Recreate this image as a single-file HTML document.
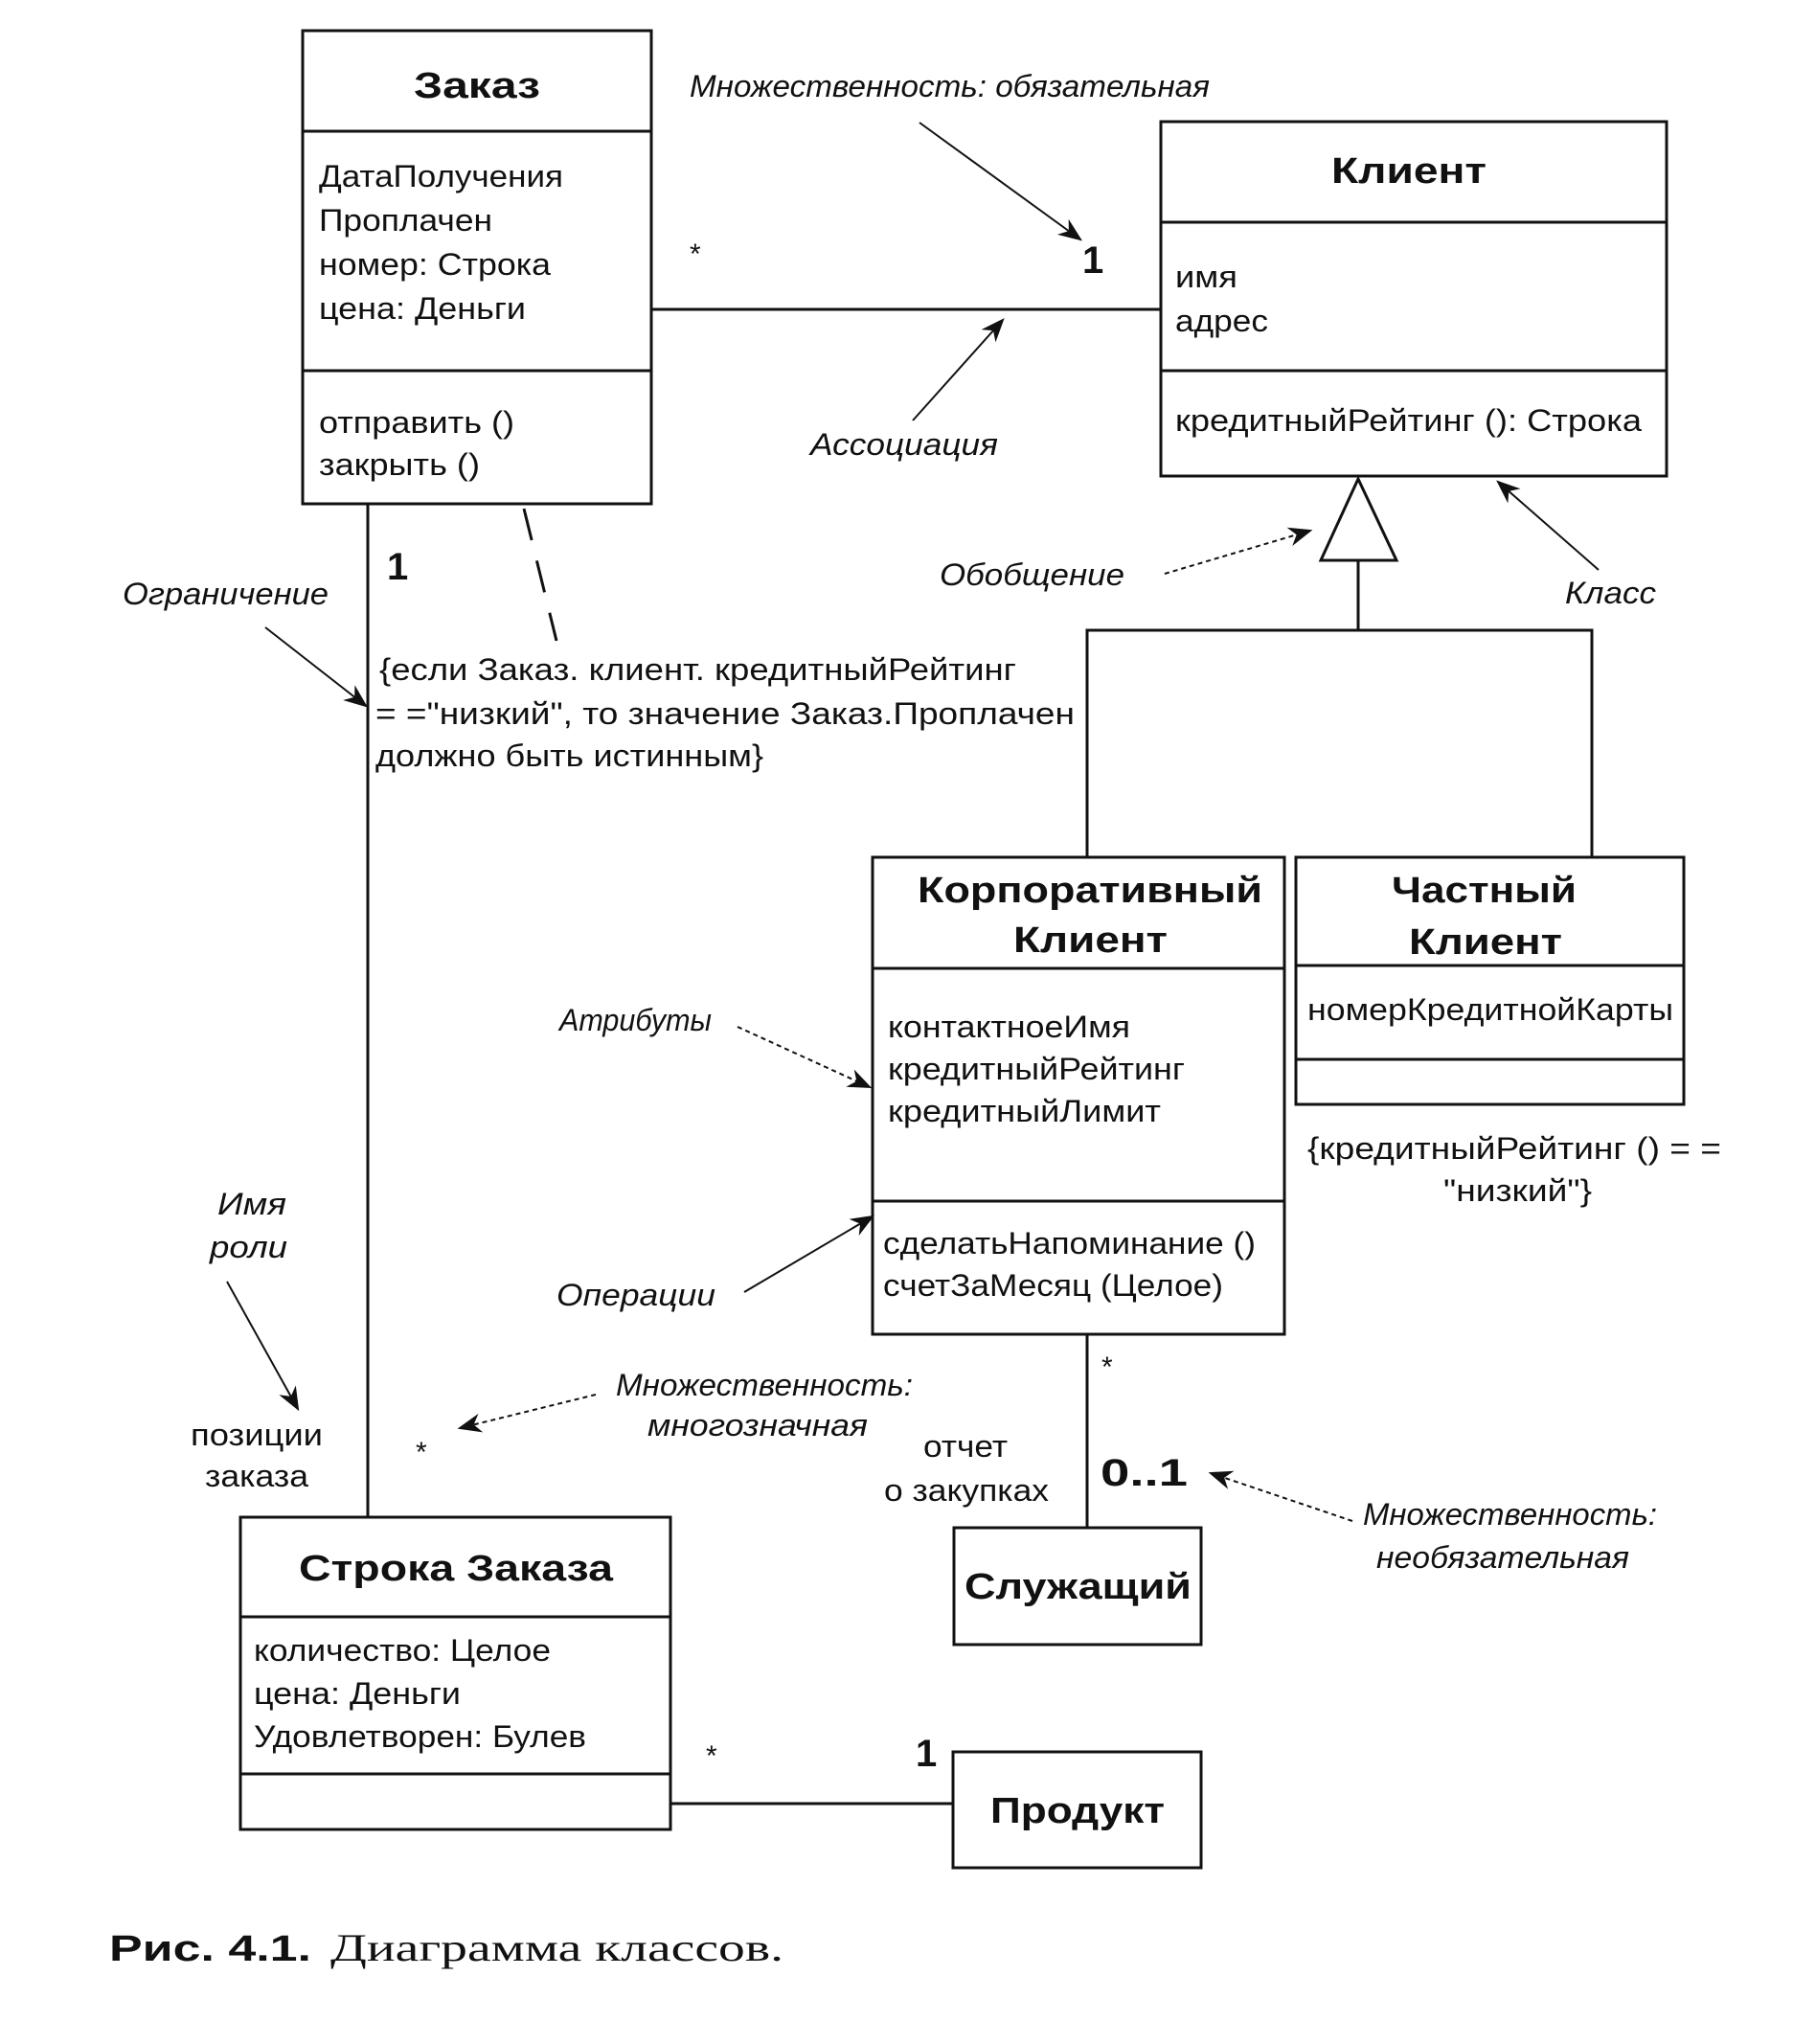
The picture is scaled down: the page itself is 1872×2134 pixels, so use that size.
<!DOCTYPE html>
<html><head><meta charset="utf-8"><style>html,body{margin:0;padding:0;background:#fff}svg{display:block}</style></head>
<body>
<svg width="1872" height="2134" viewBox="0 0 1872 2134" xmlns="http://www.w3.org/2000/svg" font-family="Liberation Sans, sans-serif" fill="#111">
<defs>
<marker id="a" markerWidth="10" markerHeight="8" refX="9" refY="4" orient="auto" markerUnits="userSpaceOnUse" viewBox="0 0 10 8">
<path d="M0,0 L10,4 L0,8 L3,4 z" fill="#111"/></marker>
<marker id="b" viewBox="0 0 10 8" refX="9" refY="4" markerWidth="26" markerHeight="20" orient="auto" markerUnits="userSpaceOnUse"><path d="M0,0 L10,4 L0,8 L3,4 z" fill="#111"/></marker>
</defs>
<g stroke="#111" stroke-width="3" fill="none">
<!-- Заказ -->
<rect x="316" y="32" width="364" height="494"/>
<line x1="316" y1="137" x2="680" y2="137"/><line x1="316" y1="387" x2="680" y2="387"/>
<!-- Клиент -->
<rect x="1212" y="127" width="528" height="370"/>
<line x1="1212" y1="232" x2="1740" y2="232"/><line x1="1212" y1="387" x2="1740" y2="387"/>
<!-- assoc -->
<line x1="680" y1="323" x2="1212" y2="323"/>
<!-- generalization -->
<polygon points="1418,500 1379,585 1458,585"/>
<line x1="1418" y1="585" x2="1418" y2="658"/>
<polyline points="1135,895 1135,658 1662,658 1662,895"/>
<!-- Корп -->
<rect x="911" y="895" width="430" height="498"/>
<line x1="911" y1="1011" x2="1341" y2="1011"/><line x1="911" y1="1254" x2="1341" y2="1254"/>
<!-- Частный -->
<rect x="1353" y="895" width="405" height="258"/>
<line x1="1353" y1="1008" x2="1758" y2="1008"/><line x1="1353" y1="1106" x2="1758" y2="1106"/>
<!-- lines -->
<line x1="384" y1="526" x2="384" y2="1584"/>
<line x1="547" y1="531" x2="581" y2="669" stroke-dasharray="34,22"/>
<line x1="1135" y1="1393" x2="1135" y2="1595"/>
<rect x="996" y="1595" width="258" height="122"/>
<rect x="251" y="1584" width="449" height="326"/>
<line x1="251" y1="1688" x2="700" y2="1688"/><line x1="251" y1="1852" x2="700" y2="1852"/>
<rect x="995" y="1829" width="259" height="121"/>
<line x1="700" y1="1883" x2="995" y2="1883"/>
</g>
<!-- annotation arrows -->
<g stroke="#111" stroke-width="2" fill="none">
<line x1="960" y1="128" x2="1128" y2="250" marker-end="url(#b)"/>
<line x1="953" y1="439" x2="1047" y2="334" marker-end="url(#b)"/>
<line x1="1216" y1="599" x2="1368" y2="554" stroke-dasharray="5,4" marker-end="url(#b)"/>
<line x1="1669" y1="595" x2="1564" y2="503" marker-end="url(#b)"/>
<line x1="277" y1="655" x2="382" y2="737" marker-end="url(#b)"/>
<line x1="770" y1="1072" x2="908" y2="1135" stroke-dasharray="5,4" marker-end="url(#b)"/>
<line x1="777" y1="1349" x2="911" y2="1270" marker-end="url(#b)"/>
<line x1="237" y1="1338" x2="311" y2="1471" marker-end="url(#b)"/>
<line x1="622" y1="1456" x2="480" y2="1491" stroke-dasharray="5,4" marker-end="url(#b)"/>
<line x1="1412" y1="1588" x2="1264" y2="1538" stroke-dasharray="5,4" marker-end="url(#b)"/>
</g>
<g font-size="32" lengthAdjust="spacingAndGlyphs">
<!-- Заказ -->
<text x="432" y="102" font-weight="bold" font-size="38" textLength="132" lengthAdjust="spacingAndGlyphs">Заказ</text>
<text x="333" y="195" textLength="255" lengthAdjust="spacingAndGlyphs">ДатаПолучения</text>
<text x="333" y="241" textLength="181" lengthAdjust="spacingAndGlyphs">Проплачен</text>
<text x="333" y="287" textLength="242" lengthAdjust="spacingAndGlyphs">номер: Строка</text>
<text x="333" y="333" textLength="216" lengthAdjust="spacingAndGlyphs">цена: Деньги</text>
<text x="333" y="452" textLength="204" lengthAdjust="spacingAndGlyphs">отправить ()</text>
<text x="333" y="496" textLength="168" lengthAdjust="spacingAndGlyphs">закрыть ()</text>
<!-- Клиент -->
<text x="1390" y="191" font-weight="bold" font-size="38" textLength="162" lengthAdjust="spacingAndGlyphs">Клиент</text>
<text x="1227" y="300" textLength="65" lengthAdjust="spacingAndGlyphs">имя</text>
<text x="1227" y="346" textLength="97" lengthAdjust="spacingAndGlyphs">адрес</text>
<text x="1227" y="450" textLength="487" lengthAdjust="spacingAndGlyphs">кредитныйРейтинг (): Строка</text>
<!-- labels -->
<text x="720" y="101" font-style="italic" textLength="543" lengthAdjust="spacingAndGlyphs">Множественность: обязательная</text>
<text x="720" y="275" font-size="30">*</text>
<text x="1130" y="285" font-weight="bold" font-size="40">1</text>
<text x="846" y="475" font-style="italic" textLength="196" lengthAdjust="spacingAndGlyphs">Ассоциация</text>
<text x="981" y="611" font-style="italic" textLength="193" lengthAdjust="spacingAndGlyphs">Обобщение</text>
<text x="1634" y="630" font-style="italic" textLength="95" lengthAdjust="spacingAndGlyphs">Класс</text>
<text x="128" y="631" font-style="italic" textLength="215" lengthAdjust="spacingAndGlyphs">Ограничение</text>
<text x="404" y="605" font-weight="bold" font-size="40">1</text>
<text x="396" y="710" textLength="665" lengthAdjust="spacingAndGlyphs">{если Заказ. клиент. кредитныйРейтинг</text>
<text x="392" y="756" textLength="730" lengthAdjust="spacingAndGlyphs">= ="низкий", то значение Заказ.Проплачен</text>
<text x="392" y="800" textLength="405" lengthAdjust="spacingAndGlyphs">должно быть истинным}</text>
<!-- Корп -->
<text x="958" y="942" font-weight="bold" font-size="38" textLength="360" lengthAdjust="spacingAndGlyphs">Корпоративный</text>
<text x="1058" y="994" font-weight="bold" font-size="38" textLength="161" lengthAdjust="spacingAndGlyphs">Клиент</text>
<text x="927" y="1083" textLength="253" lengthAdjust="spacingAndGlyphs">контактноеИмя</text>
<text x="927" y="1127" textLength="310" lengthAdjust="spacingAndGlyphs">кредитныйРейтинг</text>
<text x="927" y="1171" textLength="285" lengthAdjust="spacingAndGlyphs">кредитныйЛимит</text>
<text x="922" y="1309" textLength="389" lengthAdjust="spacingAndGlyphs">сделатьНапоминание ()</text>
<text x="922" y="1353" textLength="355" lengthAdjust="spacingAndGlyphs">счетЗаМесяц (Целое)</text>
<!-- Частный -->
<text x="1453" y="942" font-weight="bold" font-size="38" textLength="193" lengthAdjust="spacingAndGlyphs">Частный</text>
<text x="1471" y="996" font-weight="bold" font-size="38" textLength="160" lengthAdjust="spacingAndGlyphs">Клиент</text>
<text x="1365" y="1065" textLength="382" lengthAdjust="spacingAndGlyphs">номерКредитнойКарты</text>
<text x="1365" y="1210" textLength="432" lengthAdjust="spacingAndGlyphs">{кредитныйРейтинг () = =</text>
<text x="1507" y="1254" textLength="155" lengthAdjust="spacingAndGlyphs">"низкий"}</text>
<text x="584" y="1076" font-style="italic" textLength="159" lengthAdjust="spacingAndGlyphs">Атрибуты</text>
<text x="581" y="1363" font-style="italic" textLength="166" lengthAdjust="spacingAndGlyphs">Операции</text>
<text x="227" y="1268" font-style="italic" textLength="72" lengthAdjust="spacingAndGlyphs">Имя</text>
<text x="219" y="1313" font-style="italic" textLength="81" lengthAdjust="spacingAndGlyphs">роли</text>
<text x="199" y="1509" textLength="138" lengthAdjust="spacingAndGlyphs">позиции</text>
<text x="214" y="1552" textLength="108" lengthAdjust="spacingAndGlyphs">заказа</text>
<text x="434" y="1526" font-size="30">*</text>
<text x="643" y="1457" font-style="italic" textLength="310" lengthAdjust="spacingAndGlyphs">Множественность:</text>
<text x="676" y="1499" font-style="italic" textLength="230" lengthAdjust="spacingAndGlyphs">многозначная</text>
<text x="1150" y="1437" font-size="30">*</text>
<text x="964" y="1521" textLength="88" lengthAdjust="spacingAndGlyphs">отчет</text>
<text x="923" y="1567" textLength="172" lengthAdjust="spacingAndGlyphs">о закупках</text>
<text x="1149" y="1551" font-weight="bold" font-size="40" textLength="91" lengthAdjust="spacingAndGlyphs">0..1</text>
<text x="1007" y="1669" font-weight="bold" font-size="38" textLength="237" lengthAdjust="spacingAndGlyphs">Служащий</text>
<text x="1423" y="1592" font-style="italic" textLength="307" lengthAdjust="spacingAndGlyphs">Множественность:</text>
<text x="1437" y="1637" font-style="italic" textLength="264" lengthAdjust="spacingAndGlyphs">необязательная</text>
<!-- Строка Заказа -->
<text x="312" y="1650" font-weight="bold" font-size="38" textLength="328" lengthAdjust="spacingAndGlyphs">Строка Заказа</text>
<text x="265" y="1734" textLength="310" lengthAdjust="spacingAndGlyphs">количество: Целое</text>
<text x="265" y="1779" textLength="216" lengthAdjust="spacingAndGlyphs">цена: Деньги</text>
<text x="265" y="1824" textLength="347" lengthAdjust="spacingAndGlyphs">Удовлетворен: Булев</text>
<text x="1034" y="1903" font-weight="bold" font-size="38" textLength="182" lengthAdjust="spacingAndGlyphs">Продукт</text>
<text x="737" y="1843" font-size="30">*</text>
<text x="956" y="1844" font-weight="bold" font-size="40">1</text>
<!-- caption -->
<text x="114" y="2047" font-weight="bold" font-size="38" textLength="211" lengthAdjust="spacingAndGlyphs">Рис. 4.1.</text>
<text x="345" y="2047" font-family="Liberation Serif, serif" font-size="40" textLength="473" lengthAdjust="spacingAndGlyphs">Диаграмма классов.</text>
</g>
</svg>
</body></html>
